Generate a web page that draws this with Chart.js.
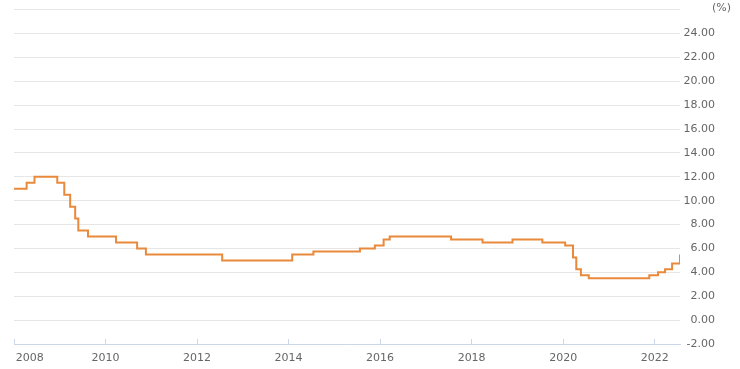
<!DOCTYPE html>
<html>
<head>
<meta charset="utf-8">
<script src="https://cdn.jsdelivr.net/npm/chart.js@4"></script>
<style>
  html, body { margin: 0; padding: 0; background: #fff; }
  #wrap { width: 740px; height: 369px; position: relative; }
</style>
</head>
<body>
<div id="wrap"><canvas id="myChart"></canvas></div>
<script>
// repo rate change dates and the new rate (%) from that date
const rateDates = [
  '2008-01-01', '2008-04-11', '2008-06-13', '2008-12-12', '2009-02-06',
  '2009-03-25', '2009-05-04', '2009-05-29', '2009-08-14', '2010-03-26',
  '2010-09-10', '2010-11-19', '2012-07-20', '2014-01-30', '2014-07-18',
  '2015-07-24', '2015-11-20', '2016-01-29', '2016-03-18', '2017-07-21',
  '2018-03-29', '2018-11-23', '2019-07-19', '2020-01-17', '2020-03-20',
  '2020-04-15', '2020-05-22', '2020-07-24', '2021-11-19', '2022-01-28',
  '2022-03-25', '2022-05-20', '2022-07-22'
];
const rateValues = [
  11.0, 11.5, 12.0, 11.5, 10.5,
  9.5, 8.5, 7.5, 7.0, 6.5,
  6.0, 5.5, 5.0, 5.5, 5.75,
  6.0, 6.25, 6.75, 7.0, 6.75,
  6.5, 6.75, 6.5, 6.25, 5.25,
  4.25, 3.75, 3.5, 3.75, 4.0,
  4.25, 4.75, 5.5
];
const yTicksMin = -2;
const yTicksMax = 26;
const unitLabel = '(%)';

// date string -> fractional year, for the linear x axis
function toYear(s) {
  const [y, m, d] = s.split('-').map(Number);
  const start = Date.UTC(y, 0, 1);
  const end = Date.UTC(y + 1, 0, 1);
  return y + (Date.UTC(y, m - 1, d) - start) / (end - start);
}

const points = rateDates.map((d, i) => ({ x: toYear(d), y: rateValues[i] }));

const axisFont = { family: 'DejaVu Sans', size: 11 };
const textColor = '#666666';

const unitPlugin = {
  id: 'unitLabel',
  afterDraw(chart) {
    const ctx = chart.ctx;
    ctx.save();
    ctx.font = '11px "DejaVu Sans"';
    ctx.fillStyle = textColor;
    ctx.textAlign = 'right';
    ctx.textBaseline = 'middle';
    ctx.fillText(unitLabel, 731, 8);
    ctx.restore();
  }
};

const ctx = document.getElementById('myChart').getContext('2d');
const config = {
  type: 'line',
  data: {
    datasets: [{
      label: 'Repo rate',
      data: points,
      borderColor: '#e9893b',
      borderWidth: 2,
      stepped: true,
      pointRadius: 0,
      fill: false
    }]
  },
  options: {
    responsive: true,
    maintainAspectRatio: false,
    animation: false,
    layout: { padding: { left: 14, right: 25, top: 3, bottom: 0 } },
    plugins: {
      legend: { display: false },
      tooltip: { enabled: false }
    },
    scales: {
      x: {
        type: 'linear',
        min: 2008,
        max: points[points.length - 1].x,
        grid: {
          display: true,
          drawOnChartArea: false,
          drawTicks: true,
          tickLength: -5,
          tickColor: '#ccd6eb'
        },
        border: { display: true, color: '#ccd6eb', width: 1, z: 1 },
        afterBuildTicks: (scale) => {
          scale.ticks = scale.ticks.filter(t => Number.isInteger(t.value) && t.value % 2 === 0);
        },
        afterFit: (scale) => {
          scale.height = 25;
          scale.paddingLeft = 0;
          scale.paddingRight = 0;
        },
        ticks: {
          stepSize: 2,
          includeBounds: false,
          autoSkip: false,
          maxRotation: 0,
          padding: 13,
          color: textColor,
          font: axisFont,
          callback: (v) => v === 2008 ? '         2008' : String(v)
        }
      },
      y: {
        position: 'right',
        min: yTicksMin,
        max: yTicksMax,
        grid: { color: '#e6e6e6', drawTicks: false },
        border: { display: false },
        afterFit: (scale) => { scale.width = 35; },
        ticks: {
          stepSize: 2,
          crossAlign: 'far',
          color: textColor,
          font: axisFont,
          callback: (v) => v === yTicksMax ? '' : v.toFixed(2)
        }
      }
    }
  },
  plugins: [unitPlugin]
};

new Chart(ctx, config);
</script>
</body>
</html>
